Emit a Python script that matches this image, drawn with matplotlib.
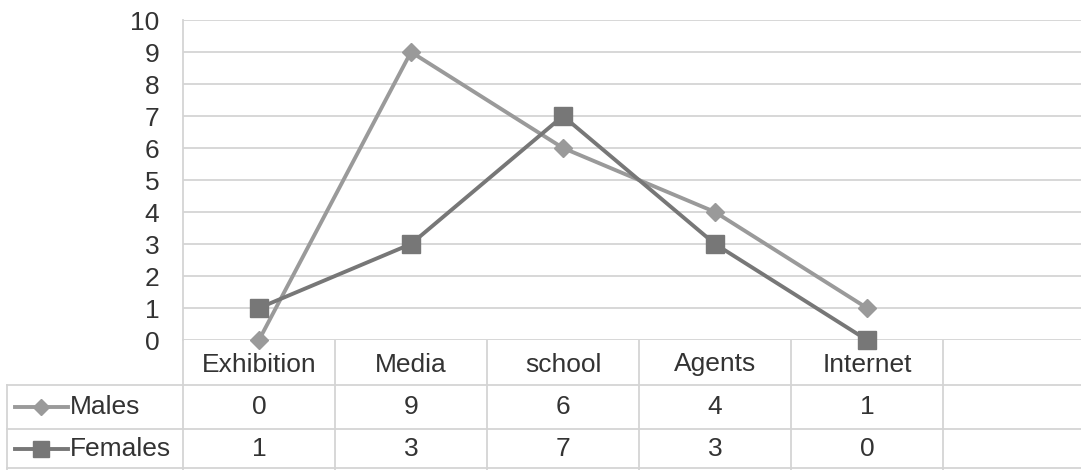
import matplotlib.pyplot as plt
from matplotlib.transforms import blended_transform_factory

plt.rcParams['font.family'] = ['Liberation Sans', 'DejaVu Sans']

categories = ['Exhibition', 'Media', 'school', 'Agents', 'Internet']
males = [0, 9, 6, 4, 1]
females = [1, 3, 7, 3, 0]
yticks = list(range(0, 11))

text_col = '#333333'
grid_col = '#d4d4d4'
male_col = '#9a9a9a'
female_col = '#777777'
fs = 19

W, H = 1081, 470
fig = plt.figure(figsize=(W / 100, H / 100), dpi=100)
fig.patch.set_facecolor('white')

# plot area in pixels: left 183, right 1095 (last column runs off the edge), top 20, bottom 340
ax = fig.add_axes([183 / W, (H - 340) / H, 912 / W, 320 / H])
x = list(range(len(categories)))
ax.plot(x, males, color=male_col, lw=2.8, marker='D', ms=9, zorder=3, clip_on=False)
ax.plot(x, females, color=female_col, lw=2.8, marker='s', ms=13, zorder=4, clip_on=False)

ax.set_xlim(-0.5, 5.5)
ax.set_ylim(0, 10)
ax.set_yticks(yticks)
ax.set_xticks([])
ax.grid(axis='y', color=grid_col, lw=1.3)
ax.set_axisbelow(True)
for s in ['top', 'right', 'bottom']:
    ax.spines[s].set_visible(False)
ax.spines['left'].set_color(grid_col)
ax.spines['left'].set_linewidth(1.3)
ax.tick_params(axis='y', length=0, pad=17, labelsize=fs, labelcolor=text_col)

# data table underneath, rows in pixel units
tab = fig.add_axes([0, 0, 1, 1], zorder=-1)
tab.set_xlim(0, W)
tab.set_ylim(H, 0)
tab.axis('off')
tr = blended_transform_factory(ax.transData, tab.transData)

row_top = [340, 385, 429]
row_bot = [385, 429, 468]
line_kw = dict(color=grid_col, lw=1.3)

# column borders
for i in range(len(categories) + 2):
    tab.plot([i - 0.5, i - 0.5], [340, 470], transform=tr, **line_kw)
tab.plot([7, 7], [385, 470], **line_kw)
for yy in [385, 429, 468]:
    tab.plot([7, W], [yy, yy], **line_kw)

# header row
hc = (row_top[0] + row_bot[0]) / 2 + 2
for i, c in enumerate(categories):
    tab.text(i, hc, c, transform=tr, ha='center', va='center', fontsize=fs, color=text_col)

# series rows with legend keys
series = [('Males', males, male_col, 'D', 9), ('Females', females, female_col, 's', 13)]
for r, (name, vals, col, mk, ms) in enumerate(series, start=1):
    yc = (row_top[r] + row_bot[r]) / 2
    tab.plot([15, 68], [yc, yc], color=col, lw=2.8)
    tab.plot([41], [yc], color=col, marker=mk, ms=ms * 0.85, ls='none')
    tab.text(70, yc, name, ha='left', va='center', fontsize=fs, color=text_col)
    for i, v in enumerate(vals):
        tab.text(i, yc, str(v), transform=tr, ha='center', va='center', fontsize=fs, color=text_col)

fig.savefig('out.png', dpi=100, facecolor='white')
